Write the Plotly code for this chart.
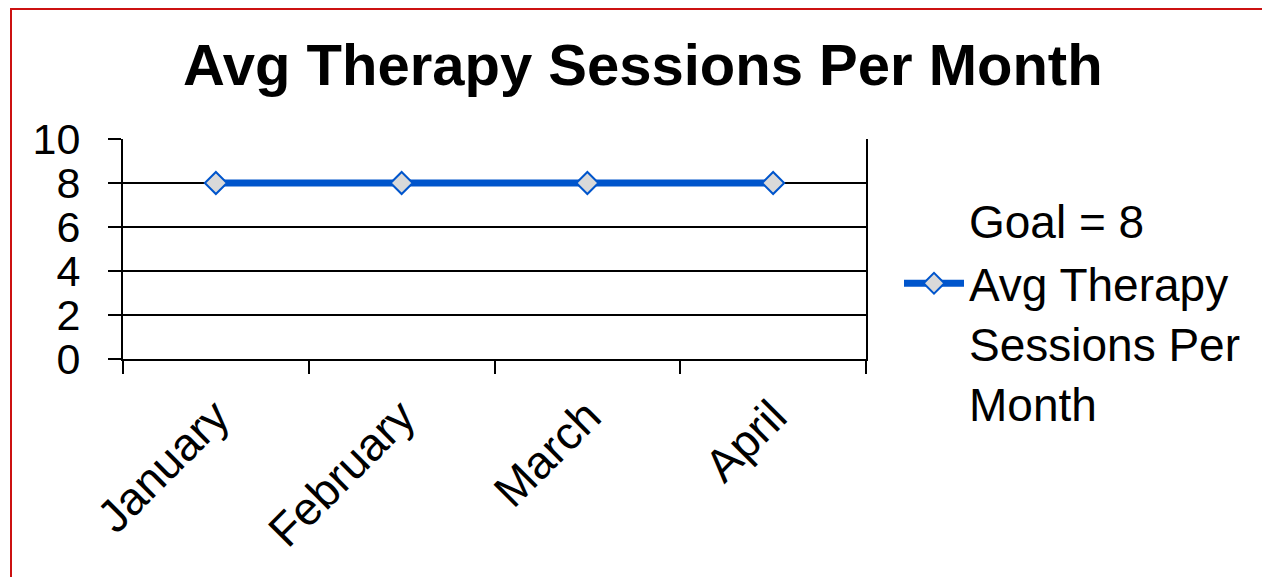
import plotly.graph_objects as go

months = ["January", "February", "March", "April"]
avg_sessions = [8, 8, 8, 8]
goal_label = "Goal = 8"
goal_values = [8, 8, 8, 8]
series_name = "Avg Therapy<br>Sessions Per<br>Month"
title_text = "Avg Therapy Sessions Per Month"
y_ticks = [0, 2, 4, 6, 8, 10]

FONT = "Liberation Sans, Arial, sans-serif"
W, H = 1262, 577
L, R, T, B = 123, 866, 139, 359

fig = go.Figure()
fig.add_trace(go.Scatter(
    x=months, y=goal_values, name=goal_label, mode="none",
    hoverinfo="skip", showlegend=True,
))
fig.add_trace(go.Scatter(
    x=months, y=avg_sessions, name=series_name, mode="lines+markers",
    line=dict(color="#0055CC", width=7),
    marker=dict(symbol="diamond", size=17, color="#D9D9D9",
                line=dict(color="#0055CC", width=2)),
))

pw, ph = R - L, B - T
def px_x(p):
    return (p - L) / pw
def px_y(p):
    return (B - p) / ph

fig.update_layout(
    width=W, height=H,
    margin=dict(l=L, r=W - R, t=T, b=H - B, pad=0, autoexpand=False),
    paper_bgcolor="white", plot_bgcolor="white",
    font=dict(family=FONT, color="black", size=44),
    showlegend=True,
    legend=dict(
        x=px_x(899), y=px_y(184), xanchor="left", yanchor="top",
        font=dict(family=FONT, size=46, color="black"),
        valign="top", itemwidth=60, tracegroupgap=0,
        bgcolor="rgba(0,0,0,0)", maxheight=400,
    ),
    xaxis=dict(
        type="category", range=[-0.5, 3.5], tickson="boundaries",
        ticks="outside", ticklen=13, tickwidth=1.5, tickcolor="black",
        showline=True, linecolor="black", linewidth=2,
        showgrid=False, tickangle=-45, automargin=False,
        tickfont=dict(family=FONT, size=46, color="black"),
        ticklabelstandoff=10,
    ),
    yaxis=dict(
        range=[0, 10], tickvals=y_ticks, ticks="outside", ticklen=13,
        tickwidth=1.5, tickcolor="black", automargin=False,
        showline=True, linecolor="black", linewidth=2, mirror=True,
        showgrid=True, gridcolor="black", gridwidth=1.5,
        zeroline=False,
        tickfont=dict(family=FONT, size=43, color="black"),
        ticklabelstandoff=19,
    ),
    annotations=[dict(
        text="<b>" + title_text + "</b>", xref="paper", yref="paper",
        x=px_x(643), y=px_y(64), xanchor="center", yanchor="middle",
        showarrow=False, font=dict(family=FONT, size=58, color="black"),
    )],
    shapes=[dict(
        type="rect", xref="paper", yref="paper",
        x0=px_x(11), x1=px_x(1320), y0=px_y(640), y1=px_y(9),
        line=dict(color="#CC1111", width=2), fillcolor="rgba(0,0,0,0)",
        layer="above",
    )],
)

fig.write_html("out.html", config={"displayModeBar": False},
               post_script="document.body.style.margin='0px';")
